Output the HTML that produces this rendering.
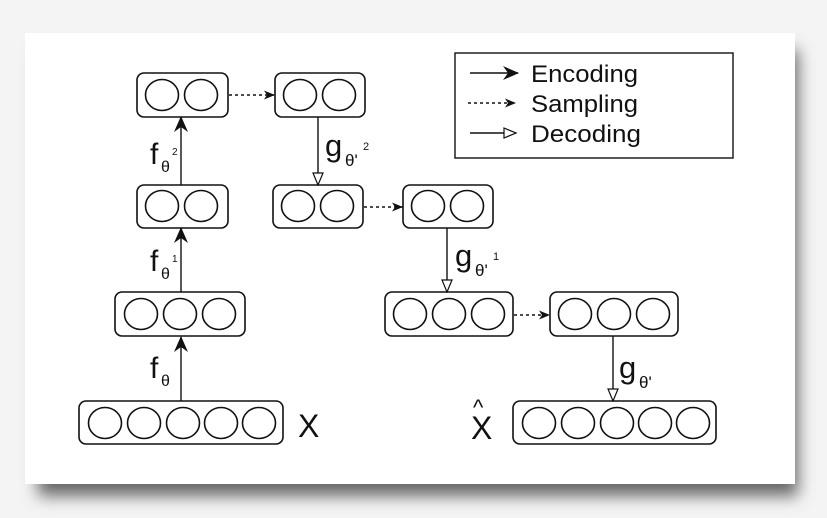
<!DOCTYPE html>
<html><head><meta charset="utf-8"><style>
html,body{margin:0;padding:0;background:#f2f2f2;}
svg{display:block;}
text{font-family:"Liberation Sans",sans-serif;fill:#111;}
</style></head><body>
<svg width="827" height="518" viewBox="0 0 827 518" xmlns="http://www.w3.org/2000/svg">
<defs>
<filter id="sh" x="-10%" y="-10%" width="120%" height="130%"><feGaussianBlur stdDeviation="8"/></filter>
<marker id="enc" markerWidth="16" markerHeight="14" refX="15" refY="7" orient="auto" markerUnits="userSpaceOnUse"><path d="M0,0 L16,7 L0,14 L5,7z" fill="#111"/></marker>
<marker id="smp" markerWidth="11" markerHeight="9" refX="11" refY="4.5" orient="auto" markerUnits="userSpaceOnUse"><path d="M0,0 L11,4.5 L0,9 L3,4.5z" fill="#111"/></marker>
<marker id="dec" markerWidth="14" markerHeight="12" refX="13" refY="6" orient="auto" markerUnits="userSpaceOnUse"><path d="M1,1 L13,6 L1,11z" fill="#fff" stroke="#111" stroke-width="1.2"/></marker>
</defs>
<rect x="0" y="0" width="827" height="518" fill="#f4f4f4"/>
<rect x="38" y="50" width="760" height="446" fill="#666" filter="url(#sh)"/>
<rect x="25" y="33" width="770" height="451" fill="#fff"/>
<g fill="none" stroke="#111" stroke-width="1.6">
<rect x="137" y="73" width="91" height="44" rx="7"/>
<ellipse cx="162" cy="95" rx="16.5" ry="15.5"/><ellipse cx="201" cy="95" rx="16.5" ry="15.5"/>
<rect x="275" y="73" width="90" height="44" rx="7"/>
<ellipse cx="300" cy="95" rx="16.5" ry="15.5"/><ellipse cx="339" cy="95" rx="16.5" ry="15.5"/>
<rect x="137" y="185" width="91" height="43" rx="7"/>
<ellipse cx="162" cy="206" rx="16.5" ry="15.5"/><ellipse cx="201" cy="206" rx="16.5" ry="15.5"/>
<rect x="273" y="185" width="90" height="43" rx="7"/>
<ellipse cx="298" cy="206" rx="16.5" ry="15.5"/><ellipse cx="337" cy="206" rx="16.5" ry="15.5"/>
<rect x="403" y="185" width="90" height="43" rx="7"/>
<ellipse cx="428" cy="206" rx="16.5" ry="15.5"/><ellipse cx="467" cy="206" rx="16.5" ry="15.5"/>
<rect x="115" y="292" width="130" height="44" rx="7"/>
<ellipse cx="141" cy="314" rx="16.5" ry="15.5"/><ellipse cx="180" cy="314" rx="16.5" ry="15.5"/><ellipse cx="219" cy="314" rx="16.5" ry="15.5"/>
<rect x="385" y="292" width="128" height="44" rx="7"/>
<ellipse cx="410" cy="314" rx="16.5" ry="15.5"/><ellipse cx="449" cy="314" rx="16.5" ry="15.5"/><ellipse cx="488" cy="314" rx="16.5" ry="15.5"/>
<rect x="550" y="292" width="128" height="44" rx="7"/>
<ellipse cx="575" cy="314" rx="16.5" ry="15.5"/><ellipse cx="614" cy="314" rx="16.5" ry="15.5"/><ellipse cx="653" cy="314" rx="16.5" ry="15.5"/>
<rect x="79" y="401" width="204" height="43" rx="7"/>
<ellipse cx="105" cy="423" rx="16.5" ry="15.5"/><ellipse cx="144" cy="423" rx="16.5" ry="15.5"/><ellipse cx="183" cy="423" rx="16.5" ry="15.5"/><ellipse cx="221" cy="423" rx="16.5" ry="15.5"/><ellipse cx="259" cy="423" rx="16.5" ry="15.5"/>
<rect x="513" y="401" width="203" height="43" rx="7"/>
<ellipse cx="539" cy="423" rx="16.5" ry="15.5"/><ellipse cx="578" cy="423" rx="16.5" ry="15.5"/><ellipse cx="617" cy="423" rx="16.5" ry="15.5"/><ellipse cx="655" cy="423" rx="16.5" ry="15.5"/><ellipse cx="693" cy="423" rx="16.5" ry="15.5"/>
<rect x="455" y="53" width="278" height="105" stroke-width="1.4"/>
</g>
<g stroke="#111" stroke-width="1.4" fill="none">
<line x1="181" y1="401" x2="181" y2="337" marker-end="url(#enc)"/>
<line x1="181" y1="292" x2="181" y2="228" marker-end="url(#enc)"/>
<line x1="181" y1="185" x2="181" y2="117" marker-end="url(#enc)"/>
<line x1="318" y1="117" x2="318" y2="185" marker-end="url(#dec)"/>
<line x1="447" y1="228" x2="447" y2="292" marker-end="url(#dec)"/>
<line x1="613" y1="336" x2="613" y2="401" marker-end="url(#dec)"/>
<line x1="229" y1="95" x2="275" y2="95" stroke-dasharray="3,3" marker-end="url(#smp)"/>
<line x1="364" y1="207" x2="403" y2="207" stroke-dasharray="3,3" marker-end="url(#smp)"/>
<line x1="514" y1="315" x2="550" y2="315" stroke-dasharray="3,3" marker-end="url(#smp)"/>
<line x1="470" y1="73" x2="518" y2="73" marker-end="url(#enc)"/>
<line x1="468" y1="103" x2="516" y2="103" stroke-dasharray="3,3" marker-end="url(#smp)"/>
<line x1="470" y1="133" x2="516" y2="133" marker-end="url(#dec)"/>
</g>
<g font-size="24">
<text x="531" y="82" textLength="107" lengthAdjust="spacingAndGlyphs">Encoding</text>
<text x="531" y="112" textLength="107" lengthAdjust="spacingAndGlyphs">Sampling</text>
<text x="531" y="142" textLength="110" lengthAdjust="spacingAndGlyphs">Decoding</text>
</g>
<g>
<text x="150" y="378" font-size="30">f</text><text x="161" y="386" font-size="16">θ</text>
<text x="150" y="271" font-size="30">f</text><text x="161" y="279" font-size="16">θ</text><text x="172" y="262" font-size="10">1</text>
<text x="150" y="164" font-size="30">f</text><text x="161" y="172" font-size="16">θ</text><text x="172" y="155" font-size="10">2</text>
<text x="325" y="156" font-size="31">g</text><text x="345" y="166" font-size="17">θ'</text><text x="363" y="150" font-size="11">2</text>
<text x="455" y="266" font-size="31">g</text><text x="475" y="276" font-size="17">θ'</text><text x="493" y="260" font-size="11">1</text>
<text x="619" y="378" font-size="31">g</text><text x="639" y="388" font-size="17">θ'</text>
<text x="298" y="437" font-size="32">X</text>
<text x="471" y="439" font-size="32">X</text><text x="473" y="415" font-size="22">^</text>
</g>
</svg>
</body></html>
